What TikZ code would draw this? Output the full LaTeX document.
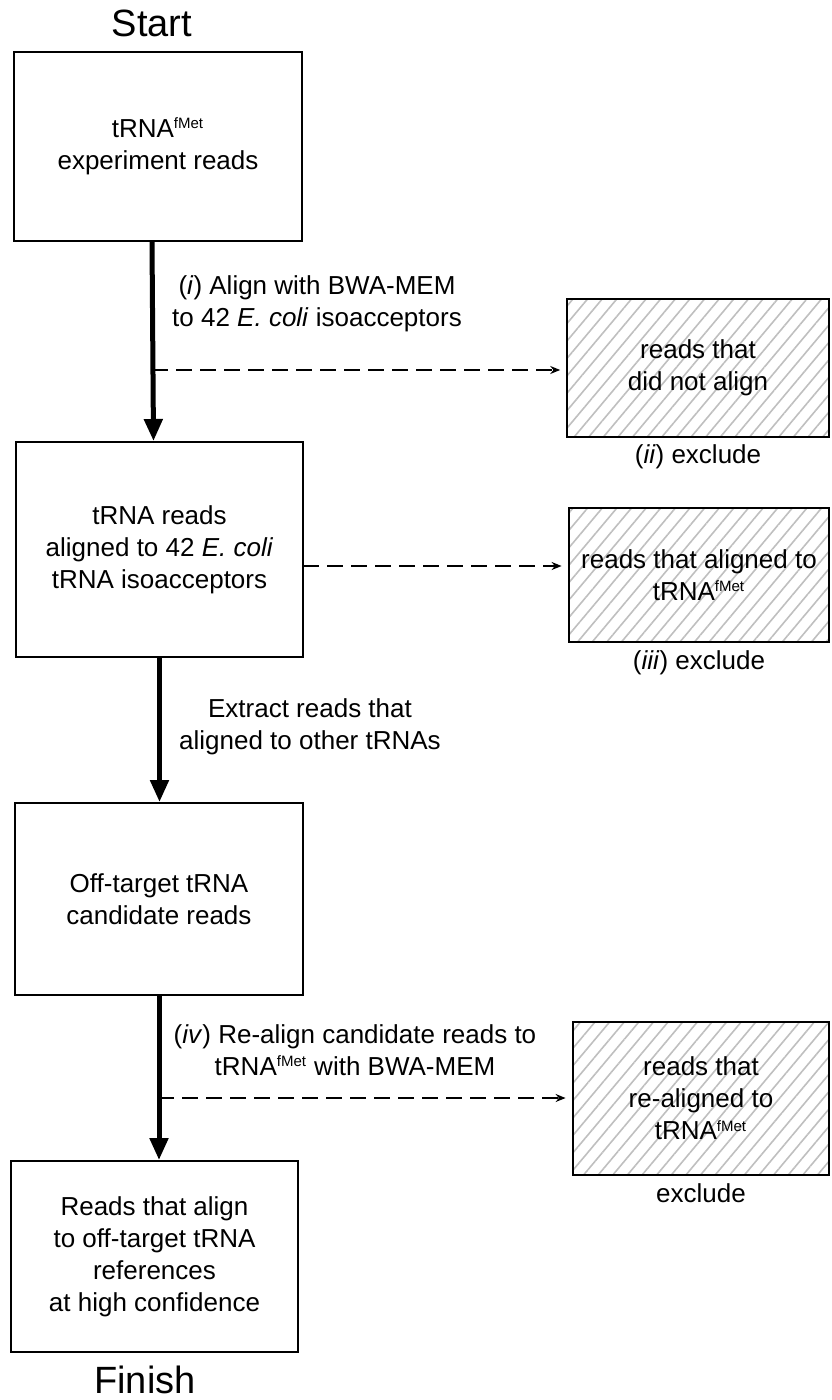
\documentclass[tikz,border=0pt]{standalone}
\usepackage{fontspec}
\setmainfont{Liberation Sans}
\usetikzlibrary{arrows.meta,patterns.meta,positioning}
\newcommand{\fMet}{\textsuperscript{\fontsize{7.5}{8}\selectfont fMet}}

\begin{document}
\begin{tikzpicture}[x=0.5pt, y=-0.5pt, font=\fontsize{13}{16}\selectfont,
  stepbox/.style={draw, line width=1pt, minimum width=144pt, align=center},
  dropbox/.style={draw, line width=1.4pt, align=center, pattern={Lines[angle=50, distance=5.6pt, line width=0.8pt]}, pattern color=gray!50},
  mainarrow/.style={-{Triangle[length=11pt, width=9pt]}, line width=2.5pt},
  sidearrow/.style={-{Stealth[length=5pt, width=4pt]}, dash pattern=on 8pt off 4pt, line width=0.8pt, shorten >=3pt},
  bigtext/.style={font=\fontsize{19}{22}\selectfont}]
\useasboundingbox (0,0) rectangle (831,1400);
% main column
\node[bigtext] (start) at (152,23) {Start};
\node[stepbox, minimum height=94.5pt] (reads) at (158,146.5) {tRNA\fMet\\experiment reads};
\node[stepbox, minimum width=143.5pt, minimum height=107.5pt] (aligned) at (159.5,549.5) {tRNA reads\\aligned to 42 \textit{E. coli}\\tRNA isoacceptors};
\node[stepbox, minimum height=96pt] (candidates) at (159,899) {Off-target tRNA\\candidate reads};
\node[stepbox, minimum width=143.5pt, minimum height=95.5pt] (result) at (154.5,1256.5) {Reads that align\\to off-target tRNA\\references\\at high confidence};
\node[bigtext] (finish) at (145,1380) {Finish};
% excluded reads
\node[dropbox, minimum width=131pt, minimum height=69pt] (noalign) at (698,368) {reads that\\did not align};
\node[dropbox, minimum width=130pt, minimum height=67pt] (fmetreads) at (699,575) {reads that aligned to\\tRNA\fMet};
\node[dropbox, minimum width=128pt, minimum height=76.5pt] (realigned) at (701,1098.5) {reads that\\re-aligned to\\tRNA\fMet};
\node (ex2) at (698,457) {(\textit{ii}) exclude};
\node (ex3) at (699,663) {(\textit{iii}) exclude};
\node (ex4) at (701,1193) {exclude};
% step labels
\node[align=center] (step1) at (317,304) {(\textit{i}) Align with BWA-MEM\\to 42 \textit{E. coli} isoacceptors};
\node[align=center] (step2) at (310,727) {Extract reads that\\aligned to other tRNAs};
\node[align=center] (step4) at (355,1050) {(\textit{iv}) Re-align candidate reads to\\tRNA\fMet{} with BWA-MEM};
% connectors
\draw[mainarrow] ([xshift=-3pt]reads.south) -- ([xshift=-3pt]aligned.north);
\draw[mainarrow] (aligned.south) -- (aligned.south |- candidates.north);
\draw[mainarrow] (candidates.south) -- (candidates.south |- result.north);
\coordinate (b1) at (152,370);
\coordinate (b2) at (303,566);
\coordinate (b3) at (158,1098);
\draw[sidearrow] (b1) -- (b1 -| noalign.west);
\draw[sidearrow] (b2) -- (b2 -| fmetreads.west);
\draw[sidearrow] (b3) -- (b3 -| realigned.west);
\end{tikzpicture}
\end{document}
